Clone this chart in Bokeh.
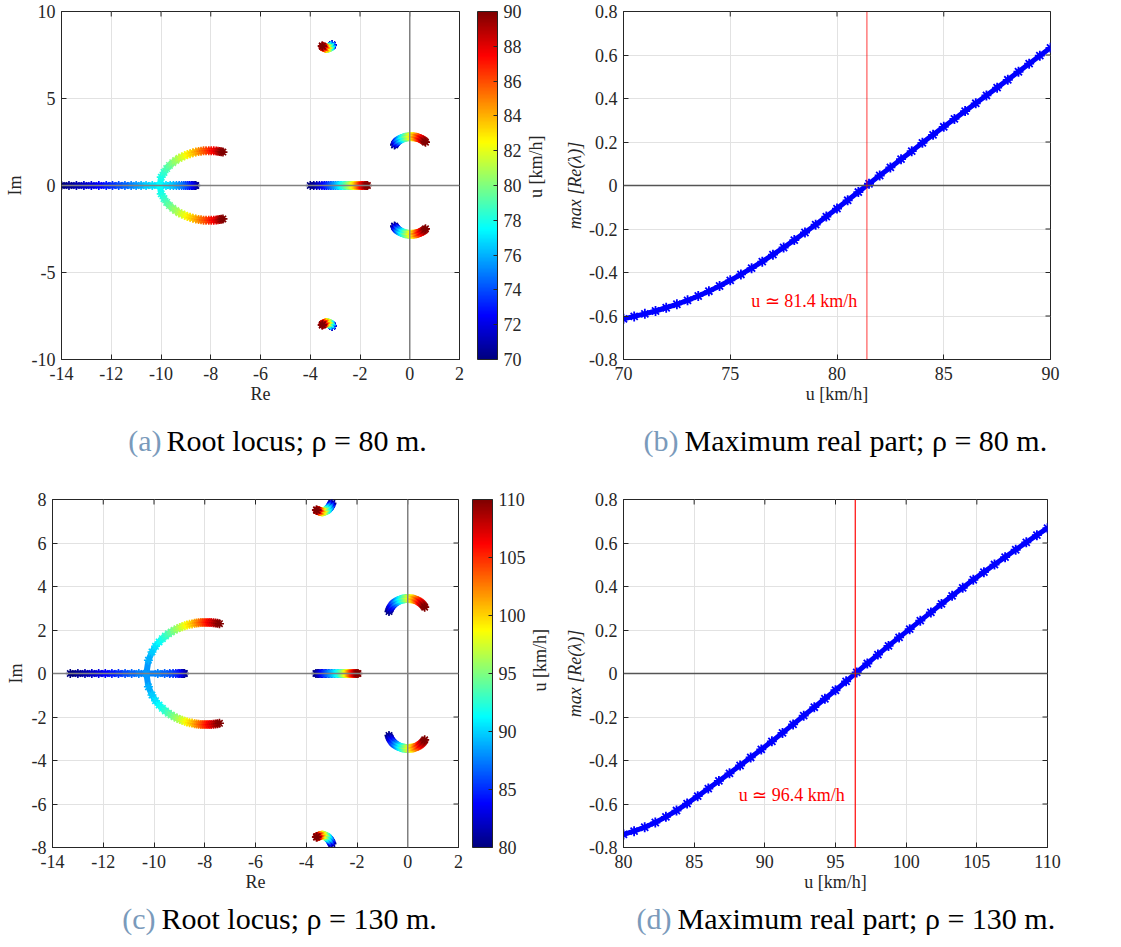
import math
from bokeh.plotting import figure
from bokeh.models import (Range1d, FixedTicker, ColorBar, LinearColorMapper,
                          Span, Label, ColumnDataSource)
from bokeh.core.properties import value
from bokeh.transform import transform
from bokeh.layouts import column, row
from bokeh.embed import file_html
from bokeh.resources import INLINE

# ---------------- data: rho = 80 m ----------------
U80 = [70.0, 70.5, 71.0, 71.5, 72.0, 72.5, 73.0, 73.5, 74.0, 74.5, 75.0, 75.5, 76.0, 76.5,
       77.0, 77.5, 78.0, 78.5, 79.0, 79.5, 80.0, 80.5, 81.0, 81.5, 82.0, 82.5, 83.0, 83.5,
       84.0, 84.5, 85.0, 85.5, 86.0, 86.5, 87.0, 87.5, 88.0, 88.5, 89.0, 89.5, 90.0]
MAXRE80 = [-0.613, -0.602, -0.590, -0.577, -0.562, -0.546, -0.528, -0.508, -0.486, -0.462,
           -0.436, -0.409, -0.380, -0.350, -0.318, -0.285, -0.251, -0.216, -0.180, -0.143,
           -0.106, -0.068, -0.030, 0.008, 0.046, 0.083, 0.121, 0.158, 0.196, 0.233,
           0.270, 0.306, 0.342, 0.378, 0.414, 0.450, 0.486, 0.523, 0.560, 0.597, 0.633]
IMAG80_Y = [2.33, 2.36, 2.39, 2.42, 2.44, 2.47, 2.50, 2.53, 2.56, 2.58, 2.61, 2.63, 2.66, 2.68,
            2.70, 2.72, 2.74, 2.75, 2.77, 2.78, 2.79, 2.80, 2.80, 2.80, 2.81, 2.80, 2.80, 2.80,
            2.79, 2.78, 2.77, 2.76, 2.74, 2.72, 2.70, 2.68, 2.65, 2.62, 2.58, 2.54, 2.49]
SMALL80_X = [-3.12, -3.12, -3.12, -3.12, -3.13, -3.13, -3.13, -3.14, -3.14, -3.15, -3.15, -3.16,
             -3.17, -3.18, -3.19, -3.20, -3.22, -3.23, -3.25, -3.26, -3.28, -3.29, -3.31, -3.32,
             -3.34, -3.35, -3.37, -3.38, -3.40, -3.41, -3.42, -3.44, -3.45, -3.46, -3.47, -3.48,
             -3.49, -3.50, -3.51, -3.51, -3.52]
SMALL80_Y = [8.07, 8.07, 8.07, 8.06, 8.06, 8.06, 8.05, 8.05, 8.04, 8.03, 8.02, 8.01, 8.00, 7.98,
             7.97, 7.96, 7.94, 7.93, 7.92, 7.91, 7.90, 7.89, 7.89, 7.88, 7.88, 7.88, 7.89, 7.89,
             7.90, 7.91, 7.92, 7.93, 7.94, 7.95, 7.96, 7.97, 7.98, 7.99, 8.00, 8.01, 8.02]
REAL80 = [-4.00, -3.86, -3.74, -3.63, -3.53, -3.44, -3.36, -3.28, -3.20, -3.13, -3.06, -2.99,
          -2.92, -2.86, -2.80, -2.74, -2.68, -2.63, -2.57, -2.52, -2.47, -2.42, -2.38, -2.33,
          -2.29, -2.25, -2.21, -2.17, -2.13, -2.10, -2.06, -2.03, -2.00, -1.97, -1.94, -1.91,
          -1.88, -1.83, -1.79, -1.75, -1.70]
BIG80_LEFT = [-14.0, -13.7, -13.4, -13.1, -12.8, -12.5, -12.2, -11.95, -11.7, -11.45, -11.2,
              -11.0, -10.8, -10.6, -10.35, -10.05]
BIG80_RIGHT = [-8.60, -8.63, -8.67, -8.72, -8.78, -8.85, -8.92, -9.00, -9.08, -9.17, -9.27,
               -9.38, -9.50, -9.63, -9.80, -10.05]
ARC80_X = [-9.99, -9.88, -9.77, -9.66, -9.53, -9.41, -9.28, -9.17, -9.05, -8.94, -8.83, -8.72,
           -8.60, -8.49, -8.39, -8.29, -8.19, -8.08, -7.98, -7.88, -7.78, -7.71, -7.64, -7.58,
           -7.51]
ARC80_Y = [0.48, 0.75, 0.97, 1.15, 1.31, 1.44, 1.56, 1.64, 1.71, 1.78, 1.83, 1.88, 1.92, 1.95,
           1.97, 1.99, 2.00, 2.00, 2.00, 1.99, 1.98, 1.97, 1.96, 1.94, 1.92]

# ---------------- data: rho = 130 m ----------------
U130 = [80.0, 80.75, 81.5, 82.25, 83.0, 83.75, 84.5, 85.25, 86.0, 86.75, 87.5, 88.25, 89.0,
        89.75, 90.5, 91.25, 92.0, 92.75, 93.5, 94.25, 95.0, 95.75, 96.5, 97.25, 98.0, 98.75,
        99.5, 100.25, 101.0, 101.75, 102.5, 103.25, 104.0, 104.75, 105.5, 106.25, 107.0,
        107.75, 108.5, 109.25, 110.0]
MAXRE130 = [-0.740, -0.725, -0.707, -0.685, -0.659, -0.630, -0.598, -0.564, -0.529, -0.494,
            -0.459, -0.423, -0.386, -0.349, -0.312, -0.273, -0.234, -0.194, -0.155, -0.116,
            -0.077, -0.036, 0.005, 0.046, 0.087, 0.127, 0.166, 0.204, 0.243, 0.281,
            0.320, 0.357, 0.394, 0.431, 0.466, 0.501, 0.535, 0.569, 0.603, 0.636, 0.668]
IMAG130_Y = [2.85, 2.91, 2.96, 3.01, 3.06, 3.11, 3.16, 3.20, 3.23, 3.27, 3.29, 3.32, 3.34, 3.36,
             3.38, 3.40, 3.41, 3.42, 3.43, 3.44, 3.45, 3.45, 3.45, 3.45, 3.44, 3.44, 3.43, 3.42,
             3.41, 3.40, 3.38, 3.36, 3.34, 3.32, 3.29, 3.26, 3.23, 3.19, 3.15, 3.10, 3.05]
SMALL130_X = [-2.99, -3.00, -3.01, -3.02, -3.03, -3.04, -3.05, -3.06, -3.07, -3.08, -3.10, -3.11,
              -3.13, -3.14, -3.16, -3.18, -3.20, -3.22, -3.24, -3.26, -3.28, -3.30, -3.32, -3.34,
              -3.36, -3.38, -3.40, -3.42, -3.44, -3.46, -3.48, -3.50, -3.51, -3.53, -3.54, -3.55,
              -3.56, -3.57, -3.58, -3.59, -3.60]
SMALL130_Y = [7.82, 7.80, 7.78, 7.76, 7.74, 7.72, 7.70, 7.68, 7.66, 7.64, 7.62, 7.60, 7.58, 7.56,
              7.54, 7.52, 7.50, 7.49, 7.48, 7.47, 7.46, 7.45, 7.45, 7.44, 7.44, 7.44, 7.44, 7.45,
              7.45, 7.46, 7.46, 7.47, 7.48, 7.48, 7.49, 7.49, 7.50, 7.50, 7.51, 7.51, 7.52]
REAL130 = [-3.62, -3.57, -3.51, -3.46, -3.41, -3.36, -3.30, -3.25, -3.19, -3.13, -3.07, -3.01,
           -2.95, -2.89, -2.83, -2.77, -2.72, -2.67, -2.63, -2.59, -2.55, -2.52, -2.49, -2.46,
           -2.43, -2.40, -2.37, -2.34, -2.32, -2.29, -2.27, -2.24, -2.21, -2.18, -2.15, -2.12,
           -2.09, -2.06, -2.03, -2.00, -1.96]
BIG130_LEFT = [-13.30, -13.00, -12.72, -12.45, -12.18, -11.92, -11.66, -11.40, -11.14, -10.88,
               -10.60, -10.30]
BIG130_RIGHT = [-8.80, -8.83, -8.87, -8.92, -8.98, -9.05, -9.14, -9.25, -9.38, -9.58, -9.85,
                -10.30]
ARC130_X = [-10.22, -10.08, -9.94, -9.80, -9.67, -9.55, -9.43, -9.32, -9.20, -9.09, -8.98, -8.89,
            -8.79, -8.70, -8.60, -8.50, -8.40, -8.32, -8.24, -8.15, -8.07, -7.99, -7.91, -7.83,
            -7.75, -7.66, -7.58, -7.50, -7.42]
ARC130_Y = [0.61, 0.99, 1.25, 1.45, 1.60, 1.72, 1.83, 1.91, 1.99, 2.06, 2.11, 2.15, 2.19, 2.23,
            2.26, 2.28, 2.31, 2.32, 2.33, 2.34, 2.35, 2.35, 2.35, 2.35, 2.34, 2.33, 2.32, 2.31,
            2.29]

# ---------------- ticks / labels ----------------
RL_XTICKS = [-14, -12, -10, -8, -6, -4, -2, 0, 2]
RL_XLABELS = ["-14", "-12", "-10", "-8", "-6", "-4", "-2", "0", "2"]
RL80_YTICKS = [-10, -5, 0, 5, 10]
RL80_YLABELS = ["-10", "-5", "0", "5", "10"]
RL130_YTICKS = [-8, -6, -4, -2, 0, 2, 4, 6, 8]
RL130_YLABELS = ["-8", "-6", "-4", "-2", "0", "2", "4", "6", "8"]
MR_YTICKS = [-0.8, -0.6, -0.4, -0.2, 0, 0.2, 0.4, 0.6, 0.8]
MR_YLABELS = ["-0.8", "-0.6", "-0.4", "-0.2", "0", "0.2", "0.4", "0.6", "0.8"]
MR80_XTICKS = [70, 75, 80, 85, 90]
MR130_XTICKS = [80, 85, 90, 95, 100, 105, 110]
CB80_TICKS = [70, 72, 74, 76, 78, 80, 82, 84, 86, 88, 90]
CB130_TICKS = [80, 85, 90, 95, 100, 105, 110]
CB_TITLE = "u [km/h]"
UCRIT80 = 81.4
UCRIT130 = 96.4
CAPTION_TAGS_TOP = ["(a)", "(b)"]
CAPTION_TEXTS_TOP = ["Root locus; ρ = 80 m.", "Maximum real part; ρ = 80 m."]
CAPTION_TAGS_BOT = ["(c)", "(d)"]
CAPTION_TEXTS_BOT = ["Root locus; ρ = 130 m.", "Maximum real part; ρ = 130 m."]

FONT = "Liberation Serif"
TXT = "#262626"
GRID = "#e2e2e2"
TICK_FS = "18px"
LAB_FS = "18px"
CAP_FS = "30px"


def jet(n=256):
    cols = []
    for k in range(n):
        t = k / (n - 1)
        r = min(max(1.5 - abs(4 * t - 3), 0), 1)
        g = min(max(1.5 - abs(4 * t - 2), 0), 1)
        b = min(max(1.5 - abs(4 * t - 1), 0), 1)
        cols.append("#%02x%02x%02x" % (int(r * 255), int(g * 255), int(b * 255)))
    return cols


JET = jet()


def base_fig(fw, fh, xr, yr, bl, br, bt, bb):
    p = figure(frame_width=fw, frame_height=fh, x_range=Range1d(*xr), y_range=Range1d(*yr),
               output_backend="svg", toolbar_location=None,
               min_border_left=bl, min_border_right=br, min_border_top=bt, min_border_bottom=bb)
    p.background_fill_color = "white"
    p.border_fill_color = "white"
    p.outline_line_color = TXT
    p.outline_line_width = 1
    return p


def style_axes(p, xt, xl, yt, yl, xr, yr, xlabel, ylabel, ylab_italic=False, ylab_standoff=4):
    ax_x = p.xaxis[0]
    ax_y = p.yaxis[0]
    ax_x.ticker = FixedTicker(ticks=xt)
    ax_x.major_label_overrides = dict(zip(xt, xl))
    ax_y.ticker = FixedTicker(ticks=yt)
    ax_y.major_label_overrides = dict(zip(yt, yl))
    for ax in (ax_x, ax_y):
        ax.major_tick_in = 5
        ax.major_tick_out = 0
        ax.minor_tick_out = 0
        ax.minor_tick_line_color = None
        ax.axis_line_color = TXT
        ax.major_tick_line_color = TXT
        ax.major_label_text_font = FONT
        ax.major_label_text_font_size = TICK_FS
        ax.major_label_text_color = TXT
        ax.axis_label_text_font = FONT
        ax.axis_label_text_font_size = LAB_FS
        ax.axis_label_text_color = TXT
        ax.axis_label_text_font_style = "normal"
    ax_x.major_label_standoff = 7
    ax_y.major_label_standoff = 6
    ax_x.axis_label = xlabel
    ax_x.axis_label_standoff = 1
    ax_y.axis_label = ylabel
    ax_y.axis_label_standoff = ylab_standoff
    if ylab_italic:
        ax_y.axis_label_text_font_style = "italic"
    p.xgrid.grid_line_color = GRID
    p.ygrid.grid_line_color = GRID
    # inward box ticks on the top and right edges (half of each dash is clipped by the frame)
    p.scatter(xt, [yr[1]] * len(xt), marker="dash", angle=math.pi / 2, size=10,
              line_color=TXT, line_width=1)
    p.scatter([xr[1]] * len(yt), yt, marker="dash", size=10, line_color=TXT, line_width=1)


def draw_branch(p, xs, ys, us, mapper):
    seg = ColumnDataSource(dict(x0=xs[:-1], y0=ys[:-1], x1=xs[1:], y1=ys[1:], u=us[:-1]))
    p.segment("x0", "y0", "x1", "y1", source=seg, line_color=transform("u", mapper),
              line_width=6)
    pts = ColumnDataSource(dict(x=xs, y=ys, u=us))
    p.scatter("x", "y", source=pts, marker="asterisk", size=9, line_width=1.6,
              line_color=transform("u", mapper))


def root_locus(U, lo, hi, imag_x, imag_y, small_x, small_y, real_x, big_left, big_right,
               arc_x, arc_y, yticks, ylabels, yr, cb_ticks, dims, cb_off, ylab_standoff):
    fw, fh, bl, br, bt, bb = dims
    xr = (-14, 2)
    mapper = LinearColorMapper(palette=JET, low=lo, high=hi)
    p = base_fig(fw, fh, xr, yr, bl, br, bt, bb)
    style_axes(p, RL_XTICKS, RL_XLABELS, yticks, ylabels, xr, yr, "Re", "Im",
               ylab_standoff=ylab_standoff)
    nb = len(big_left)
    up_x = big_left + arc_x
    up_y = [0.0] * nb + arc_y
    lo_x = big_right + arc_x
    lo_y = [0.0] * nb + [-v for v in arc_y]
    draw_branch(p, up_x, up_y, U, mapper)
    draw_branch(p, lo_x, lo_y, U, mapper)
    draw_branch(p, real_x, [0.0] * len(real_x), U, mapper)
    draw_branch(p, small_x, small_y, U, mapper)
    draw_branch(p, small_x, [-v for v in small_y], U, mapper)
    draw_branch(p, imag_x, imag_y, U, mapper)
    draw_branch(p, imag_x, [-v for v in imag_y], U, mapper)
    p.add_layout(Span(location=0, dimension="width", line_color="#808080", line_width=1.5))
    p.add_layout(Span(location=0, dimension="height", line_color="#808080", line_width=1.5))
    cb = ColorBar(color_mapper=mapper, ticker=FixedTicker(ticks=cb_ticks), width=20,
                  padding=0, margin=0, location=(cb_off, 0),
                  major_label_text_font=FONT, major_label_text_font_size=TICK_FS,
                  major_label_text_color=TXT, label_standoff=6, bar_line_color=TXT,
                  major_tick_line_color=TXT, major_tick_in=4, major_tick_out=0,
                  minor_tick_line_color=None, background_fill_alpha=0, border_line_color=None)
    p.add_layout(cb, "right")
    return p


def max_re(U, vals, xticks, xr, ucrit, red_alpha, ann_x, ann_y, dims):
    fw, fh, bl, br, bt, bb = dims
    yr = (-0.8, 0.8)
    p = base_fig(fw, fh, xr, yr, bl, br, bt, bb)
    style_axes(p, xticks, [str(v) for v in xticks], MR_YTICKS, MR_YLABELS, xr, yr,
               "u [km/h]", "max [Re(λ)]", ylab_italic=True, ylab_standoff=1)
    p.line(U, vals, line_color="blue", line_width=5)
    p.scatter(U, vals, marker="asterisk", size=10, line_width=1.8, line_color="blue")
    p.add_layout(Span(location=0, dimension="width", line_color="#555555", line_width=1.3))
    p.add_layout(Span(location=ucrit, dimension="height", line_color="red",
                      line_alpha=red_alpha, line_width=1.3))
    p.add_layout(Label(x=ann_x, y=ann_y, text="u ≃ %.1f km/h" % ucrit, text_font=FONT,
                       text_font_size="18px", text_color="red", text_align="right",
                       text_baseline="middle"))
    return p


def title_strip(w, h, x, y):
    # vertical colour-bar title, in a narrow strip beside the colour bar
    p = figure(width=w, height=h, x_range=Range1d(0, w), y_range=Range1d(0, h),
               output_backend="svg", toolbar_location=None, min_border=0)
    p.axis.visible = False
    p.grid.visible = False
    p.outline_line_color = None
    p.text(x=[x], y=[y], text=[CB_TITLE], angle=math.pi / 2, text_font=value(FONT),
           text_font_size=LAB_FS, text_color=TXT, text_align="center",
           text_baseline="middle")
    return p


def caption_strip(h, y, tags, texts, tag_right, text_left):
    p = figure(width=1121, height=h, x_range=Range1d(0, 1121), y_range=Range1d(0, h),
               output_backend="svg", toolbar_location=None, min_border=0)
    p.axis.visible = False
    p.grid.visible = False
    p.outline_line_color = None
    p.text(x=tag_right, y=[y] * len(tags), text=tags, text_font=value(FONT),
           text_font_size=CAP_FS, text_color="#7a9abb", text_align="right",
           text_baseline="middle")
    p.text(x=text_left, y=[y] * len(texts), text=texts, text_font=value(FONT),
           text_font_size=CAP_FS, text_color="black", text_align="left",
           text_baseline="middle")
    return p


# row 1: 523 + 24 + 574 = 1121 ; height 11 + 348 + 56 = 415
pa = root_locus(U80, 70, 90, MAXRE80, IMAG80_Y, SMALL80_X, SMALL80_Y, REAL80,
                BIG80_LEFT, BIG80_RIGHT, ARC80_X, ARC80_Y, RL80_YTICKS, RL80_YLABELS,
                (-10, 10), CB80_TICKS, (398, 348, 61, 64, 11, 56), 18, 4)
t1 = title_strip(24, 415, 11.5, 230)
pb = max_re(U80, MAXRE80, MR80_XTICKS, (70, 90), UCRIT80, 0.6, 80.95, -0.53,
            (427, 348, 75, 72, 11, 56))
# row 2: 527 + 25 + 569 = 1121 ; height 19 + 348 + 51 = 418
pc = root_locus(U130, 80, 110, MAXRE130, IMAG130_Y, SMALL130_X, SMALL130_Y, REAL130,
                BIG130_LEFT, BIG130_RIGHT, ARC130_X, ARC130_Y, RL130_YTICKS, RL130_YLABELS,
                (-8, 8), CB130_TICKS, (406, 348, 52, 69, 19, 51), 14, 3)
t2 = title_strip(25, 418, 11.5, 225)
pd = max_re(U130, MAXRE130, MR130_XTICKS, (80, 110), UCRIT130, 0.9, 95.65, -0.56,
            (424, 348, 70, 75, 19, 51))

cap1 = caption_strip(65, 40, CAPTION_TAGS_TOP, CAPTION_TEXTS_TOP, [161, 678], [166, 684])
cap2 = caption_strip(49, 29, CAPTION_TAGS_BOT, CAPTION_TEXTS_BOT, [155, 671], [161, 677])

layout = column(row(pa, t1, pb, spacing=0), cap1, row(pc, t2, pd, spacing=0), cap2,
                spacing=0)
open("out.html", "w").write(file_html(layout, INLINE))
